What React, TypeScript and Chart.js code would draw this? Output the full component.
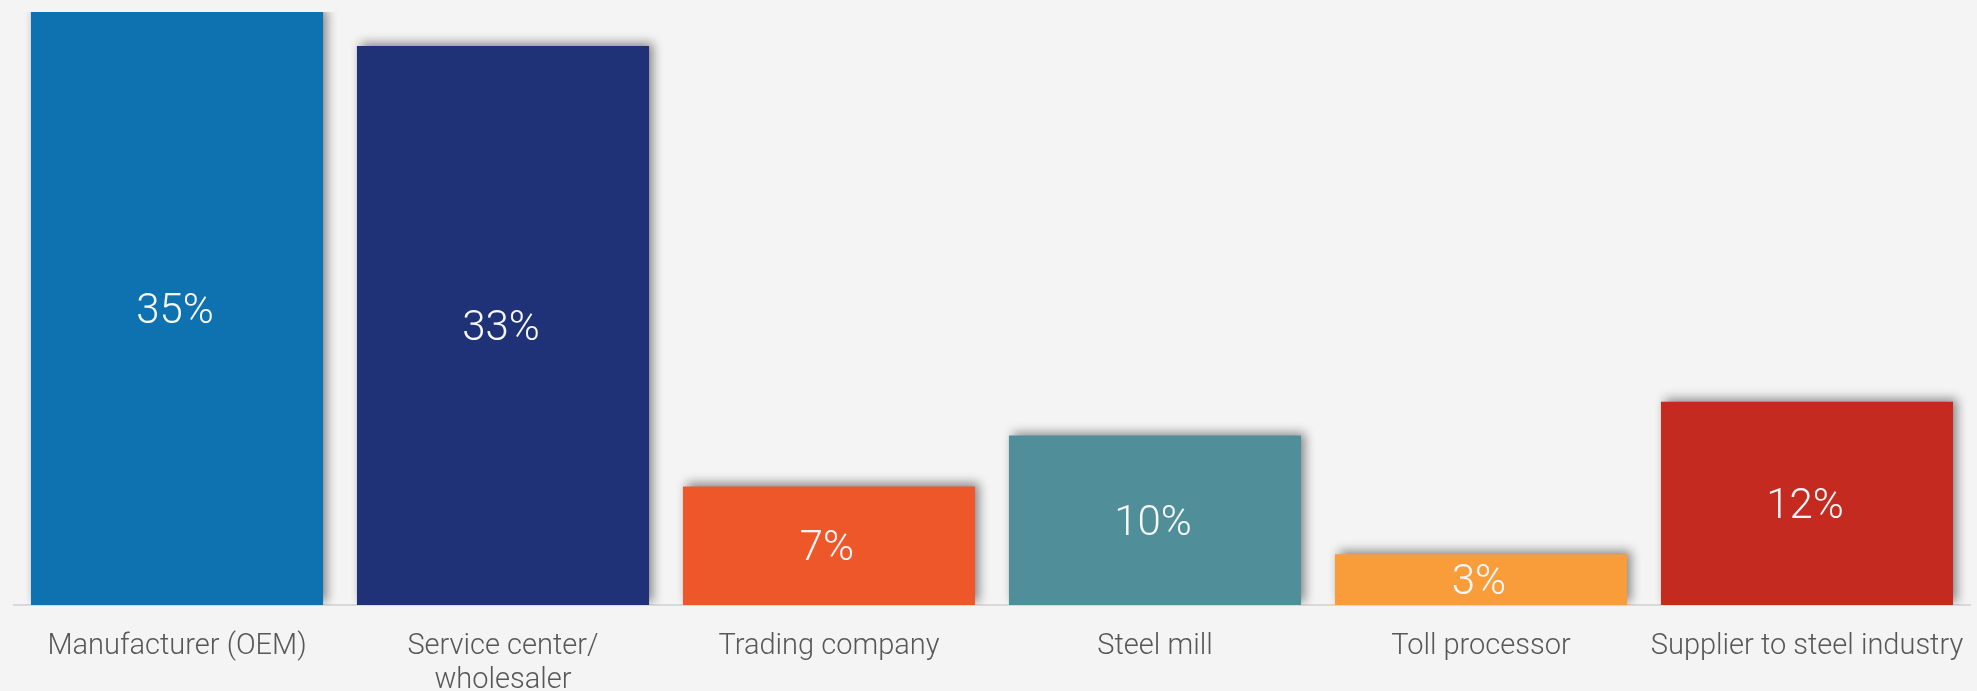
import React, { useEffect, useRef } from "react";
import { Chart, registerables } from "chart.js";

Chart.register(...registerables);

const categories: (string | string[])[] = [
  "Manufacturer (OEM)",
  ["Service center/", "wholesaler"],
  "Trading company",
  "Steel mill",
  "Toll processor",
  "Supplier to steel industry",
];
const shares = [35, 33, 7, 10, 3, 12];
const barColors = ["#0f72b0", "#1f3278", "#ee572a", "#508f99", "#f99d3b", "#c42a1f"];
const valueLabels = ["35%", "33%", "7%", "10%", "3%", "12%"];

const BG = "#f4f4f4";

const bgPlugin = {
  id: "bg",
  beforeDraw(chart: any) {
    const { ctx, width, height } = chart;
    ctx.save();
    ctx.fillStyle = BG;
    ctx.fillRect(0, 0, width, height);
    ctx.restore();
  },
};

const shadowPlugin = {
  id: "barShadow",
  beforeDatasetsDraw(chart: any) {
    const ctx = chart.ctx;
    ctx.save();
    ctx.shadowColor = "rgba(0,0,0,0.45)";
    ctx.shadowBlur = 10;
    ctx.shadowOffsetX = 4;
    ctx.shadowOffsetY = -3;
  },
  afterDatasetsDraw(chart: any) {
    chart.ctx.restore();
  },
};

const valueLabelPlugin = {
  id: "valueLabels",
  afterDatasetsDraw(chart: any) {
    const ctx = chart.ctx;
    const meta = chart.getDatasetMeta(0);
    ctx.save();
    ctx.fillStyle = "#f7f7f7";
    ctx.font = "300 42px Roboto, 'Liberation Sans', sans-serif";
    ctx.textAlign = "center";
    ctx.textBaseline = "middle";
    meta.data.forEach((bar: any, i: number) => {
      const { x, y, base } = bar.getProps(["x", "y", "base"], true);
      ctx.fillText(valueLabels[i], x - 2, (y + base) / 2 + 4);
    });
    ctx.restore();
  },
};

export default function App() {
  const ref = useRef<HTMLCanvasElement | null>(null);

  useEffect(() => {
    document.body.style.margin = "0";
    document.body.style.background = BG;
    const canvas = ref.current;
    if (!canvas) return;
    const chart = new Chart(canvas, {
      type: "bar",
      data: {
        labels: categories,
        datasets: [
          {
            data: shares,
            backgroundColor: barColors,
            borderWidth: 0,
            categoryPercentage: 1,
            barPercentage: 0.896,
          },
        ],
      },
      options: {
        animation: false,
        responsive: false,
        devicePixelRatio: 1,
        layout: { padding: { top: 12, left: 14, right: 7, bottom: 0 } },
        plugins: {
          legend: { display: false },
          tooltip: { enabled: false },
        },
        scales: {
          x: {
            grid: { display: false, drawTicks: false },
            border: { display: true, color: "#d9d9d9", width: 2 },
            ticks: {
              color: "#575757",
              padding: 24,
              maxRotation: 0,
              autoSkip: false,
              font: { family: "Roboto, 'Liberation Sans', sans-serif", size: 29, weight: 300 as any, lineHeight: 1.2 },
            },
            afterFit(scale: any) {
              scale.height = 86;
              scale.paddingLeft = 0;
              scale.paddingRight = 0;
            },
          },
          y: {
            display: false,
            min: 0,
            max: 35,
          },
        },
      },
      plugins: [bgPlugin, shadowPlugin, valueLabelPlugin],
    });
    return () => chart.destroy();
  }, []);

  return (
    <div style={{ position: "absolute", left: 0, top: 0, width: 1977, height: 691, background: BG }}>
      <canvas ref={ref} width={1977} height={691} style={{ display: "block", width: 1977, height: 691 }} />
    </div>
  );
}
